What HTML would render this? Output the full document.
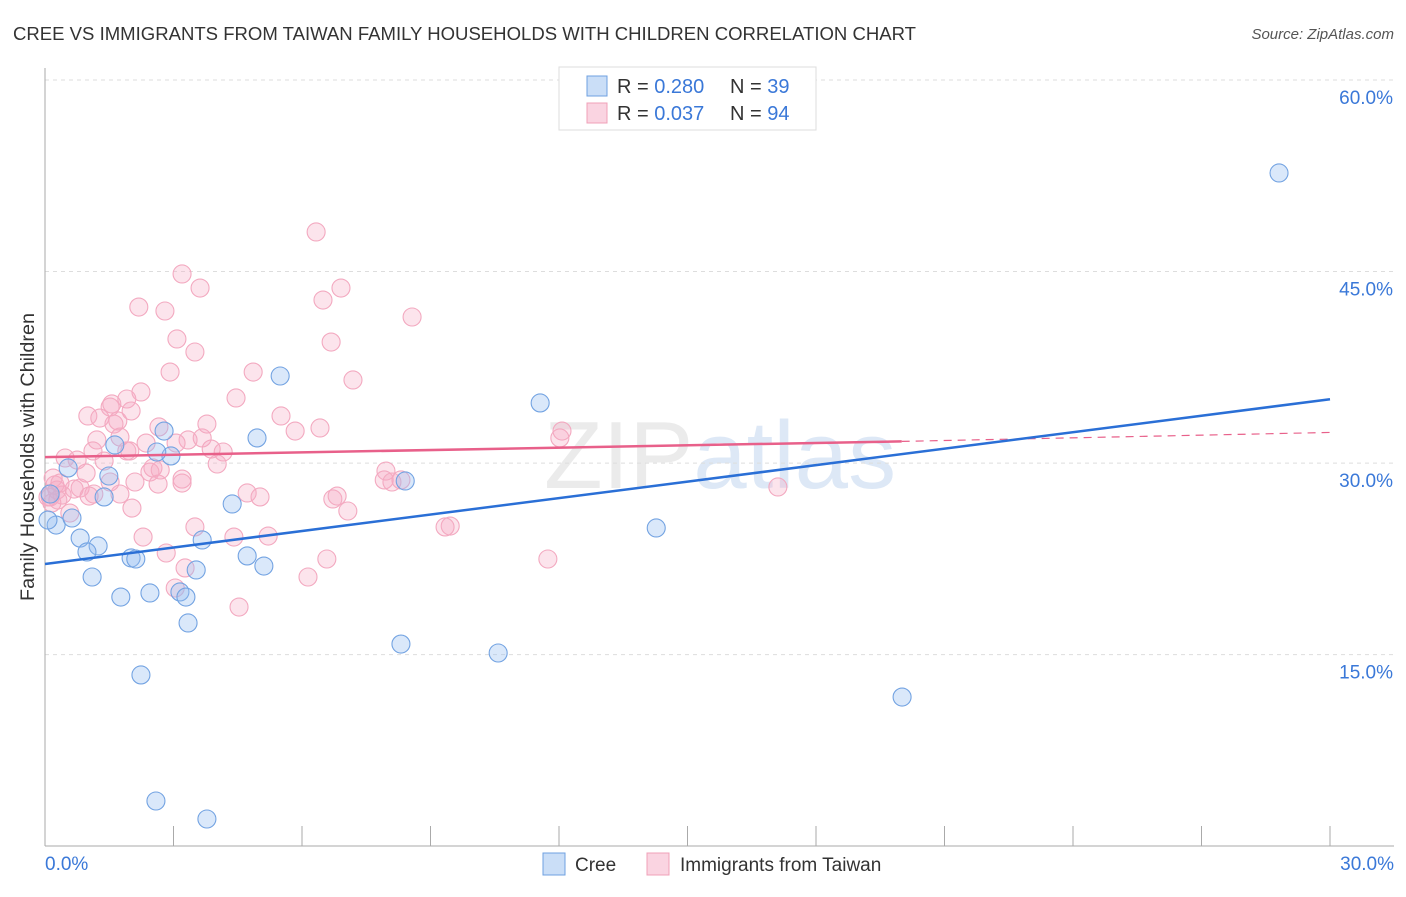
<!DOCTYPE html>
<html><head><meta charset="utf-8"><style>
body{margin:0;background:#fff;font-family:"Liberation Sans",sans-serif}
svg text{font-family:"Liberation Sans",sans-serif}
</style></head><body>
<svg id="chart" width="1406" height="892" xmlns="http://www.w3.org/2000/svg">
<text x="13" y="40" font-size="18" fill="#333" textLength="903" lengthAdjust="spacingAndGlyphs">CREE VS IMMIGRANTS FROM TAIWAN FAMILY HOUSEHOLDS WITH CHILDREN CORRELATION CHART</text>
<text x="1394" y="39" font-size="15" fill="#555" text-anchor="end" font-style="italic">Source: ZipAtlas.com</text>
<text x="720" y="488" font-size="96" text-anchor="middle" fill="#ebebeb" font-family="Liberation Serif">ZIP<tspan fill="#dde8f6" font-family="Liberation Sans">atlas</tspan></text>
<g id="grid"></g><g id="axes"></g><g id="marks"></g>
<text transform="translate(34,457) rotate(-90)" font-size="19" fill="#333" text-anchor="middle" textLength="288" lengthAdjust="spacingAndGlyphs">Family Households with Children</text>
<g>
<rect x="559" y="67" width="257" height="63" fill="#fff" stroke="#ddd"/>
<rect x="587" y="76" width="20" height="20" fill="rgba(150,190,240,0.5)" stroke="#6fa0e0"/>
<rect x="587" y="103" width="20" height="20" fill="rgba(245,170,195,0.5)" stroke="#f0a0b8"/>
<text x="617" y="93" font-size="20" fill="#333">R = <tspan fill="#3a78d8">0.280</tspan></text>
<text x="730" y="93" font-size="20" fill="#333">N = <tspan fill="#3a78d8">39</tspan></text>
<text x="617" y="120" font-size="20" fill="#333">R = <tspan fill="#3a78d8">0.037</tspan></text>
<text x="730" y="120" font-size="20" fill="#333">N = <tspan fill="#3a78d8">94</tspan></text>
</g>
<g>
<rect x="543" y="853" width="22" height="22" fill="rgba(150,190,240,0.5)" stroke="#6fa0e0"/>
<text x="575" y="871" font-size="19" fill="#333">Cree</text>
<rect x="647" y="853" width="22" height="22" fill="rgba(245,170,195,0.5)" stroke="#f0a0b8"/>
<text x="680" y="871" font-size="19" fill="#333">Immigrants from Taiwan</text>
</g>
</svg>
<script>
const yTicks=[15,30,45,60];
const yTickLabels=["15.0%","30.0%","45.0%","60.0%"];
const xTickLabels=["0.0%","30.0%"];
const creeX=[28.81,5.49,11.56,4.95,2.78,1.63,2.94,0.54,1.49,1.38,8.41,4.37,0.26,0.63,0.82,1.24,0.98,2.01,2.12,3.67,4.72,5.11,3.53,1.10,1.77,2.45,3.15,3.29,3.34,14.27,8.31,10.58,2.24,20.01,2.59,3.78,0.07,0.12,2.61];
const creeY=[52.72,36.82,34.71,31.97,32.51,31.42,30.56,29.62,28.99,27.35,28.60,26.80,25.15,25.70,24.13,23.51,23.04,22.57,22.49,23.98,22.73,21.94,21.63,21.08,19.51,19.83,19.91,19.51,17.48,24.92,15.83,15.13,13.41,11.68,3.54,2.13,25.54,27.58,30.87];
const twX=[6.33,3.20,3.62,6.91,6.49,2.19,2.80,8.57,3.08,6.68,3.50,2.92,4.86,7.19,2.24,4.46,1.91,1.52,5.51,1.00,1.28,1.70,1.61,6.42,5.84,2.66,3.34,3.67,1.21,2.36,12.07,12.02,3.06,3.88,0.47,0.75,1.91,1.12,1.38,4.02,2.52,2.45,7.96,7.92,3.20,2.64,3.20,1.14,0.19,0.28,0.07,0.40,0.82,1.52,2.10,1.03,0.68,1.75,4.72,5.02,6.72,6.82,7.07,2.03,0.58,17.11,8.31,8.10,3.50,4.41,5.21,2.29,9.46,9.34,2.83,6.58,11.74,6.14,3.27,3.04,4.53,1.98,0.96,0.12,0.23,0.30,0.16,0.35,1.75,2.01,3.78,1.56,2.69,4.16];
const twY=[48.10,44.81,43.71,43.71,42.77,42.22,41.91,41.44,39.72,39.48,38.70,37.13,37.13,36.51,35.57,35.10,35.02,34.39,33.69,33.69,33.53,33.30,33.06,32.75,32.51,32.83,31.81,31.97,31.81,31.57,32.51,31.97,31.57,31.10,30.40,30.24,30.95,30.95,30.16,29.93,29.62,29.30,29.38,28.68,28.75,28.36,28.44,27.58,28.83,27.89,27.35,27.50,28.05,28.52,28.52,27.42,27.97,27.58,27.66,27.35,27.19,27.42,26.25,26.48,26.09,28.13,28.68,28.52,25.00,24.21,24.29,24.21,25.07,25.00,22.96,22.49,22.49,21.08,21.79,20.22,18.73,30.95,29.22,27.35,28.29,27.11,26.88,28.44,32.04,34.08,33.06,34.63,29.46,30.87];
const creeTrend=[22.1,35.0];
const twTrend=[30.47,31.7,32.4];
const NS="http://www.w3.org/2000/svg";
const X=v=>45+v*(1285/30), Y=v=>80+(60-v)*12.77;
function mk(tag,attrs,parent){const e=document.createElementNS(NS,tag);for(const k in attrs)e.setAttribute(k,attrs[k]);document.getElementById(parent).appendChild(e);return e;}
yTicks.forEach((t,i)=>{
 const g=mk('line',{x1:45,x2:1394,y1:Y(t),y2:Y(t),stroke:'#ddd','stroke-dasharray':'4,4'},'grid');
 
 
 const l=mk('text',{x:1393,y:Y(t)+24,'font-size':19,fill:'#3a78d8','text-anchor':'end'},'grid');
 l.textContent=yTickLabels[i];
 
 
});
const ax=mk('line',{x1:45,x2:45,y1:68,y2:846,stroke:'#aaa'},'axes');


const bx=mk('line',{x1:45,x2:1394,y1:846,y2:846,stroke:'#aaa'},'axes');


for(let i=0;i<=10;i++){
 const t=mk('line',{x1:X(i*3),x2:X(i*3),y1:826,y2:846,stroke:'#aaa'},'axes');
 
 
}
[[0,'start',45],[30,'end',1394]].forEach((d,i)=>{
 const l=mk('text',{x:d[2],y:870,'font-size':19,fill:'#3a78d8','text-anchor':d[1]},'axes');
 l.textContent=xTickLabels[i];
 
 
});
twX.forEach((x,i)=>{
 const c=mk('circle',{cx:X(x),cy:Y(twY[i]),r:9,fill:'rgba(245,170,195,0.32)',stroke:'#f3a9c0','stroke-width':1.1},'marks');
 
 
});
creeX.forEach((x,i)=>{
 const c=mk('circle',{cx:X(x),cy:Y(creeY[i]),r:9,fill:'rgba(150,190,240,0.35)',stroke:'#73a3e2','stroke-width':1.1},'marks');
 
 
});
const p1=mk('line',{x1:X(0),y1:Y(twTrend[0]),x2:X(20),y2:Y(twTrend[1]),stroke:'#e8608a','stroke-width':2.5},'marks');


const p2=mk('line',{x1:X(20),y1:Y(twTrend[1]),x2:X(30),y2:Y(twTrend[2]),stroke:'#e8608a','stroke-width':1.2,'stroke-dasharray':'8,6'},'marks');


const b1=mk('line',{x1:X(0),y1:Y(creeTrend[0]),x2:X(30),y2:Y(creeTrend[1]),stroke:'#2a6fd6','stroke-width':2.5},'marks');


</script>
</body></html>
